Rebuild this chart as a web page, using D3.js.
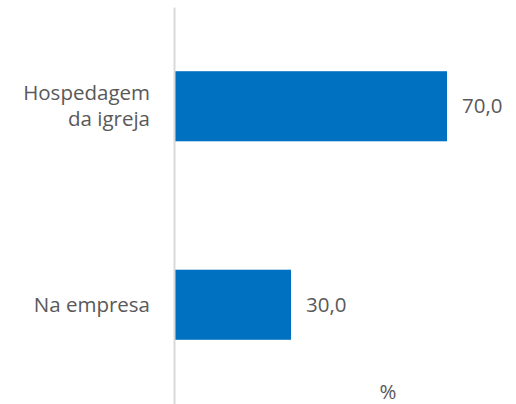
<!DOCTYPE html>
<html>
<head>
<meta charset="utf-8">
<script src="https://cdn.jsdelivr.net/npm/d3@7"></script>
<style>
    body { margin: 0; background: #fff; }
    svg { display: block; }
    text { font-family: 'Open Sans', sans-serif; fill: #595959; }
</style>
</head>
<body>
<svg width="516" height="404"></svg>
<script>
// data
const categories = ['Hospedagem da igreja', 'Na empresa'];
const categoryLines = [['Hospedagem', 'da igreja'], ['Na empresa']];
const values = [70.0, 30.0];
const unitLabel = '%';

const width = 516;
const height = 404;
const margin = { left: 174, top: 7, bottom: 0 };
const fontSize = 20.5;

const svg = d3.select('svg');

const x = d3.scaleLinear().domain([0, 100]).range([margin.left, margin.left + 390]);
const y = d3.scaleBand()
    .domain(categories)
    .range([margin.top, height - margin.bottom])
    .paddingInner(0.647)
    .paddingOuter(0.3235);

const fmt = (v) => d3.format('.1f')(v).replace('.', ',');

// bars
svg.append('g')
    .selectAll('rect')
    .data(values)
    .enter()
    .append('rect')
    .attr('x', x(0))
    .attr('y', (d, i) => y(categories[i]))
    .attr('width', (d) => x(d) - x(0))
    .attr('height', y.bandwidth())
    .attr('fill', '#0070c0');

// vertical axis line, no ticks
const yAxis = d3.axisLeft(y).tickSize(0).tickFormat('');
const yAxisContainer = svg.append('g')
    .attr('transform', `translate(${x(0)}, 0)`)
    .call(yAxis);
yAxisContainer.select('.domain').attr('stroke', '#d9d9d9').attr('stroke-width', 2);

// category labels
const lineHeight = 26;
svg.append('g')
    .selectAll('text')
    .data(categories)
    .enter()
    .append('text')
    .attr('text-anchor', 'end')
    .attr('font-size', fontSize)
    .each(function (d, i) {
        const lines = categoryLines[i];
        const cy = y(d) + y.bandwidth() / 2;
        const start = cy - (lines.length - 1) * lineHeight / 2;
        d3.select(this).selectAll('tspan')
            .data(lines)
            .enter()
            .append('tspan')
            .attr('x', 150)
            .attr('y', (l, j) => start + j * lineHeight)
            .attr('dy', '0.35em')
            .text((l) => l);
    });

// value labels
svg.append('g')
    .selectAll('text')
    .data(values)
    .enter()
    .append('text')
    .attr('x', (d) => x(d) + 15)
    .attr('y', (d, i) => y(categories[i]) + y.bandwidth() / 2)
    .attr('dy', '0.35em')
    .attr('font-size', fontSize)
    .text((d) => fmt(d));

// unit label
svg.append('text')
    .attr('x', 388)
    .attr('y', 399)
    .attr('text-anchor', 'middle')
    .attr('font-size', fontSize)
    .text(unitLabel);
</script>
</body>
</html>
